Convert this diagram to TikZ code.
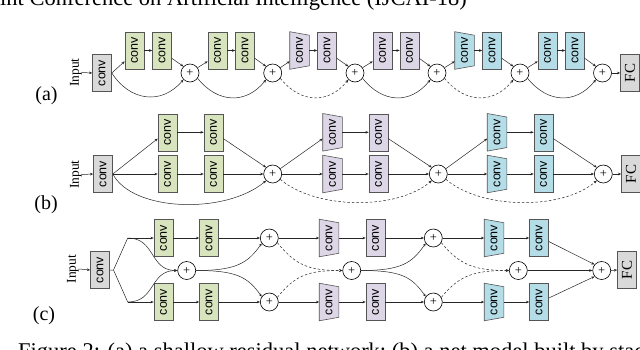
\documentclass[tikz,border=0pt]{standalone}
\usepackage{fontspec}
\setmainfont{Liberation Serif}
\setsansfont{Liberation Sans}
\usepackage{graphicx}
\usetikzlibrary{arrows.meta,backgrounds}
\definecolor{cgrayf}{HTML}{D9D9D9}
\definecolor{cgreenf}{HTML}{D7E4BD}
\definecolor{cpurplef}{HTML}{DCD6E6}
\definecolor{cbluef}{HTML}{B4DDE8}
\definecolor{bline}{HTML}{555555}
\newcommand\cv{\rotatebox{90}{conv}}
\newcommand\trapz[2]{%
  \begin{scope}[on background layer]
  \filldraw[draw=bline, line width=0.6pt, fill=#2] (#1.north west) -- ([yshift=-3.5pt]#1.north east) -- ([yshift=3.5pt]#1.south east) -- (#1.south west) -- cycle;
  \end{scope}}
\begin{document}
\begin{tikzpicture}[x=1pt,y=-1pt,
  box/.style={draw=bline, line width=0.6pt, minimum width=19pt, minimum height=37pt, inner sep=0pt, font=\sffamily\fontsize{12.5}{12.5}\selectfont},
  boxgray/.style={box, fill=cgrayf},
  boxgreen/.style={box, fill=cgreenf},
  boxpurple/.style={box, fill=cpurplef},
  boxblue/.style={box, fill=cbluef},
  trapbox/.style={box, draw=none},
  fcbox/.style={box, fill=cgrayf, font=\fontsize{15}{15}\selectfont},
  plus/.style={circle, draw=black, line width=0.6pt, fill=white, minimum size=18pt, inner sep=0pt, font=\fontsize{12.5}{12.5}\selectfont},
  inp/.style={inner sep=0pt, font=\fontsize{13.5}{13.5}\selectfont},
  lab/.style={inner sep=0pt, font=\fontsize{20}{20}\selectfont},
  arr/.style={-{Stealth[length=3.2pt,width=2.6pt]}, line width=0.5pt, draw=black!85},
  ln/.style={line width=0.5pt, draw=black!85},
  dsh/.style={dash pattern=on 2.5pt off 2pt}
]
\useasboundingbox (0,0) rectangle (640,349);
% header and caption (clipped by page, as in the reference)
\node[anchor=base west, inner sep=0pt, font=\fontsize{22.5}{22.5}\selectfont] (hdr) at (0,5) {int Conference on Artificial Intelligence (IJCAI-18)};
\node[anchor=base west, inner sep=0pt, font=\fontsize{22.5}{22.5}\selectfont] (cap) at (18,358) {Figure 2: (a) a shallow residual network; (b) a net model built by stacked};
% labels
\node[lab] (la) at (46.5,96) {(a)};
\node[lab] (lb) at (46,205) {(b)};
\node[lab] (lc) at (44,316) {(c)};

%%%%%%%%%%%% (a)
\node[inp] (inA) at (76,72.5) {\rotatebox{90}{Input}};
\node[boxgray] (a0) at (102,73) {\cv};
\node[boxgreen] (a1) at (134.5,50.5) {\cv};
\node[boxgreen] (a2) at (162,50.5) {\cv};
\node[plus] (pa1) at (190,73) {+};
\node[boxgreen] (a3) at (217.5,50.5) {\cv};
\node[boxgreen] (a4) at (245,50.5) {\cv};
\node[plus] (pa2) at (272.7,73) {+};
\node[trapbox] (a5) at (299.5,50.5) {\cv};
\node[boxpurple] (a6) at (327,50.5) {\cv};
\node[plus] (pa3) at (355,73) {+};
\node[boxpurple] (a7) at (382.5,50.5) {\cv};
\node[boxpurple] (a8) at (409.5,50.5) {\cv};
\node[plus] (pa4) at (437,73) {+};
\node[trapbox] (a9) at (464.5,50.5) {\cv};
\node[boxblue] (a10) at (492,50.5) {\cv};
\node[plus] (pa5) at (520,73) {+};
\node[boxblue] (a11) at (547.5,50.5) {\cv};
\node[boxblue] (a12) at (575,50.5) {\cv};
\node[plus] (pa6) at (602.5,73) {+};
\node[fcbox] (fcA) at (630,73) {\rotatebox{90}{FC}};
\trapz{a5}{cpurplef}
\trapz{a9}{cbluef}

\draw[arr] (inA.east) -- (a0.west);
\draw[arr] (a0.east) -- ([yshift=8pt]a1.south west);
\draw[arr] (a0.east) .. controls +(18,28) and +(-22,26) .. (pa1.225);
\foreach \s/\t/\p in {a1/a2/pa1, a3/a4/pa2, a5/a6/pa3, a7/a8/pa4, a9/a10/pa5, a11/a12/pa6}{
  \draw[arr] (\s.east) -- (\t.west);
  \draw[arr] ([yshift=11pt]\t.south east) -- (\p.135);
}
\foreach \p/\c in {pa1/a3, pa2/a5, pa3/a7, pa4/a9, pa5/a11}{
  \draw[arr] (\p.35) -- ([yshift=8pt]\c.south west);
}
\draw[arr] (pa1.-35) .. controls +(20,25) and +(-20,25) .. (pa2.225);
\draw[arr,dsh] (pa2.-35) .. controls +(20,25) and +(-20,25) .. (pa3.225);
\draw[arr] (pa3.-35) .. controls +(20,25) and +(-20,25) .. (pa4.225);
\draw[arr,dsh] (pa4.-35) .. controls +(20,25) and +(-20,25) .. (pa5.225);
\draw[arr] (pa5.-35) .. controls +(20,25) and +(-20,25) .. (pa6.225);
\draw[arr] (pa6.east) -- (fcA.west);

%%%%%%%%%%%% (b)
\node[inp] (inB) at (76,174.5) {\rotatebox{90}{Input}};
\node[boxgray] (b0) at (103,174) {\cv};
\node[boxgreen] (bt1) at (167.5,132.3) {\cv};
\node[boxgreen] (bt2) at (213.5,132.3) {\cv};
\node[boxgreen] (bb1) at (167.5,174) {\cv};
\node[boxgreen] (bb2) at (213.5,174) {\cv};
\node[plus] (pb1) at (272.7,174) {+};
\node[trapbox] (bt3) at (332.5,132.3) {\cv};
\node[boxpurple] (bt4) at (378.5,132.3) {\cv};
\node[trapbox] (bb3) at (332.5,174) {\cv};
\node[boxpurple] (bb4) at (378.5,174) {\cv};
\node[plus] (pb2) at (438.3,174) {+};
\node[trapbox] (bt5) at (497,132.3) {\cv};
\node[boxblue] (bt6) at (543.5,132.3) {\cv};
\node[trapbox] (bb5) at (497,174) {\cv};
\node[boxblue] (bb6) at (543.5,174) {\cv};
\node[plus] (pb3) at (603.3,174) {+};
\node[fcbox] (fcB) at (631,174) {\rotatebox{90}{FC}};
\trapz{bt3}{cpurplef}
\trapz{bb3}{cpurplef}
\trapz{bt5}{cbluef}
\trapz{bb5}{cbluef}

\draw[arr] (inB.east) -- (b0.west);
\draw[arr] (b0.east) -- ([yshift=12.5pt]bt1.south west);
\draw[arr] (b0.east) -- (bb1.west);
\draw[arr] (b0.east) .. controls +(20,38) and +(-40,34) .. (pb1.225);
\foreach \s/\t/\p in {bt1/bt2/pb1, bt3/bt4/pb2, bt5/bt6/pb3}{
  \draw[arr] (\s.east) -- (\t.west);
  \draw[arr] ([yshift=12.5pt]\t.south east) -- (\p.135);
}
\foreach \s/\t/\p in {bb1/bb2/pb1, bb3/bb4/pb2, bb5/bb6/pb3}{
  \draw[arr] (\s.east) -- (\t.west);
  \draw[arr] (\t.east) -- (\p.west);
}
\foreach \p/\ct/\cb in {pb1/bt3/bb3, pb2/bt5/bb5}{
  \draw[arr] (\p.35) -- ([yshift=12.5pt]\ct.south west);
  \draw[arr] (\p.east) -- (\cb.west);
}
\draw[arr,dsh] (pb1.-35) .. controls +(35,30) and +(-35,30) .. (pb2.225);
\draw[arr,dsh] (pb2.-35) .. controls +(35,30) and +(-35,30) .. (pb3.225);
\draw[arr] (pb3.east) -- (fcB.west);

%%%%%%%%%%%% (c)
\node[inp] (inC) at (73,269) {\rotatebox{90}{Input}};
\node[boxgray] (c0) at (100,270) {\cv};
\coordinate (fk) at (113.5,270);
\coordinate (ft) at (127.7,238);
\coordinate (fb) at (127.7,302);
\node[boxgreen] (ct1) at (163.5,238) {\cv};
\node[boxgreen] (ct2) at (209,238) {\cv};
\node[boxgreen] (cb1) at (163.5,302) {\cv};
\node[boxgreen] (cb2) at (209,302) {\cv};
\node[plus] (pc1) at (186.7,270.5) {+};
\node[plus] (pt1) at (269.3,238) {+};
\node[plus] (pcb1) at (269.3,302) {+};
\node[trapbox] (ct3) at (329,238) {\cv};
\node[boxpurple] (ct4) at (375.5,238) {\cv};
\node[trapbox] (cb3) at (329,302) {\cv};
\node[boxpurple] (cb4) at (375.5,302) {\cv};
\node[plus] (pc2) at (351.7,270.5) {+};
\node[plus] (pt2) at (433.3,238) {+};
\node[plus] (pcb2) at (433.3,302) {+};
\node[trapbox] (ct5) at (494,238) {\cv};
\node[boxblue] (ct6) at (539,238) {\cv};
\node[trapbox] (cb5) at (494,302) {\cv};
\node[boxblue] (cb6) at (539,302) {\cv};
\node[plus] (pc3) at (518.3,270.5) {+};
\node[plus] (pf) at (601.7,270.5) {+};
\node[fcbox] (fcC) at (627,270) {\rotatebox{90}{FC}};
\trapz{ct3}{cpurplef}
\trapz{cb3}{cpurplef}
\trapz{ct5}{cbluef}
\trapz{cb5}{cbluef}

\draw[arr] (inC.east) -- (c0.west);
\draw[ln] (c0.east) -- (fk) -- (ft);
\draw[ln] (fk) -- (fb);
\draw[arr] (ft) -- (ct1.west);
\draw[arr] (fb) -- (cb1.west);
\draw[arr] (ft) .. controls +(28,0) and +(-28,0) .. (pc1.west);
\draw[arr] (fb) .. controls +(28,0) and +(-28,0) .. (pc1.west);
\foreach \s/\t/\p in {ct1/ct2/pt1, cb1/cb2/pcb1, ct3/ct4/pt2, cb3/cb4/pcb2}{
  \draw[arr] (\s.east) -- (\t.west);
  \draw[arr] (\t.east) -- (\p.west);
}
\draw[arr] (pt1.east) -- (ct3.west);
\draw[arr] (pcb1.east) -- (cb3.west);
\draw[arr] (pt2.east) -- (ct5.west);
\draw[arr] (pcb2.east) -- (cb5.west);
\draw[arr] (ct5.east) -- (ct6.west);
\draw[arr] (cb5.east) -- (cb6.west);
\foreach \m/\t/\b in {pc1/pt1/pcb1, pc2/pt2/pcb2}{
  \draw[arr] (\m.east) .. controls +(40,0) and +(-14,20) .. (\t.215);
  \draw[arr] (\m.east) .. controls +(40,0) and +(-14,-20) .. (\b.145);
}
\foreach \t/\b/\m in {pt1/pcb1/pc2, pt2/pcb2/pc3}{
  \draw[arr,dsh] (\t.-30) .. controls +(18,22) and +(-35,0) .. (\m.west);
  \draw[arr,dsh] (\b.30) .. controls +(18,-22) and +(-35,0) .. (\m.west);
}
\draw[arr] ([yshift=-3.5pt]ct6.east) -- (pf.140);
\draw[arr] ([yshift=4pt]cb6.east) -- (pf.220);
\draw[arr] (pc3.east) -- (pf.west);
\draw[arr] (pf.east) -- (fcC.west);
\end{tikzpicture}
\end{document}
